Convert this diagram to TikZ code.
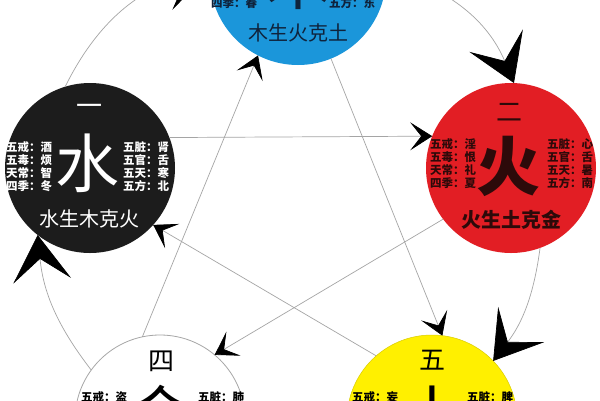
\documentclass[tikz,border=0pt]{standalone}
\usepackage{fontspec}
\setmainfont{Noto Sans CJK SC}
\usetikzlibrary{arrows.meta}
\definecolor{mublue}{RGB}{27,150,218}
\definecolor{huored}{RGB}{226,30,36}
\definecolor{tuyellow}{RGB}{255,240,0}
\definecolor{shuiblack}{RGB}{28,28,28}
\definecolor{linegray}{RGB}{165,165,165}
\definecolor{mutext}{RGB}{15,35,60}
\definecolor{huotext}{RGB}{45,10,10}
\tikzset{
	elem/.style={circle, inner sep=0pt, outer sep=0pt, minimum size=170pt},
	numchar/.style={font=\fontsize{26}{26}\selectfont},
	bigchar/.style={font=\fontsize{64}{64}\selectfont},
	colbox/.style={align=left, inner sep=0pt, font=\fontsize{11.5}{13}\selectfont\bfseries},
	motto/.style={font=\fontsize{20}{20}\selectfont},
	sheng/.style={draw=linegray, line width=0.7pt, -{Stealth[length=46pt, width=58pt, inset=22pt, color=black]}},
	ke/.style={draw=linegray, line width=0.7pt, -{Stealth[length=22pt, width=28pt, inset=11pt, color=black]}}
}
\begin{document}
\begin{tikzpicture}[x=1pt, y=-1pt]
		\useasboundingbox (0,0) rectangle (600,400);
		\fill [white] (0,0) rectangle (600,400);
		\clip (0,0) rectangle (600,400);
		\node (mu)[elem, fill=mublue, minimum size=176pt] at (298,-23) {};
		\node (shui)[elem, fill=shuiblack] at (90,168) {};
		\node (huo)[elem, fill=huored, minimum size=170pt] at (511,168) {};
		\node (jin)[elem, fill=white, draw=gray!70, line width=0.8pt] at (160,420) {};
		\node (tu)[elem, fill=tuyellow, draw=tuyellow!85!black, line width=0.5pt] at (432,420) {};
		%
		\node (muChar)[bigchar, text=mutext] at (298,-20) {木};
		\node (muLeft)[colbox, text=mutext] at (234,3) {四季：春};
		\node (muRight)[colbox, text=mutext] at (352,3) {五方：东};
		\node (muMotto)[motto, text=mutext] at (298,33) {木生火克土};
		%
		\node (shuiNum)[numchar, text=white] at (89,110) {一};
		\node (shuiChar)[bigchar, text=white] at (87,163) {水};
		\node (shuiLeft)[colbox, text=white] at (29,167) {五戒：酒\\五毒：烦\\天常：智\\四季：冬};
		\node (shuiRight)[colbox, text=white] at (146,167) {五脏：肾\\五官：舌\\五天：寒\\五方：北};
		\node (shuiMotto)[motto, text=white] at (89,219) {水生木克火};
		%
		\node (huoNum)[numchar, text=huotext] at (509,112) {二};
		\node (huoChar)[bigchar, text=huotext, font=\fontsize{64}{64}\selectfont\bfseries] at (508,166) {火};
		\node (huoLeft)[colbox, text=huotext] at (453,164) {五戒：淫\\五毒：恨\\天常：礼\\四季：夏};
		\node (huoRight)[colbox, text=huotext] at (570,164) {五脏：心\\五官：舌\\五天：暑\\五方：南};
		\node (huoMotto)[motto, text=huotext, font=\fontsize{20}{20}\selectfont\bfseries] at (511,220) {火生土克金};
		%
		\node (jinNum)[numchar] at (161,361) {四};
		\node (jinChar)[bigchar] at (160,414) {金};
		\node (jinLeft)[colbox] at (104,397) {五戒：盗};
		\node (jinRight)[colbox] at (221,397) {五脏：肺};
		%
		\node (tuNum)[numchar] at (432,360) {五};
		\node (tuChar)[bigchar] at (432,414) {土};
		\node (tuLeft)[colbox] at (375,397) {五戒：妄};
		\node (tuRight)[colbox] at (490,397) {五脏：脾};
		% sheng
		\draw [sheng] (shui.107) to[bend left=25] (mu.176);
		\draw [sheng] (mu.4) to[bend left=26] (huo.88);
		\draw [sheng] (huo.290) to[bend left=15] (tu.44);
		\draw [sheng] (jin.144) to[bend left=16] (shui.232);
		% ke
		\draw [ke] (shui.21)--(huo.158);
		\draw [ke] (huo.217)--(jin.50);
		\draw [ke] (jin.102)--(mu.243);
		\draw [ke] (mu.292)--(tu.83);
		\draw [ke] (tu.131)--(shui.318);
	\end{tikzpicture}
\end{document}
